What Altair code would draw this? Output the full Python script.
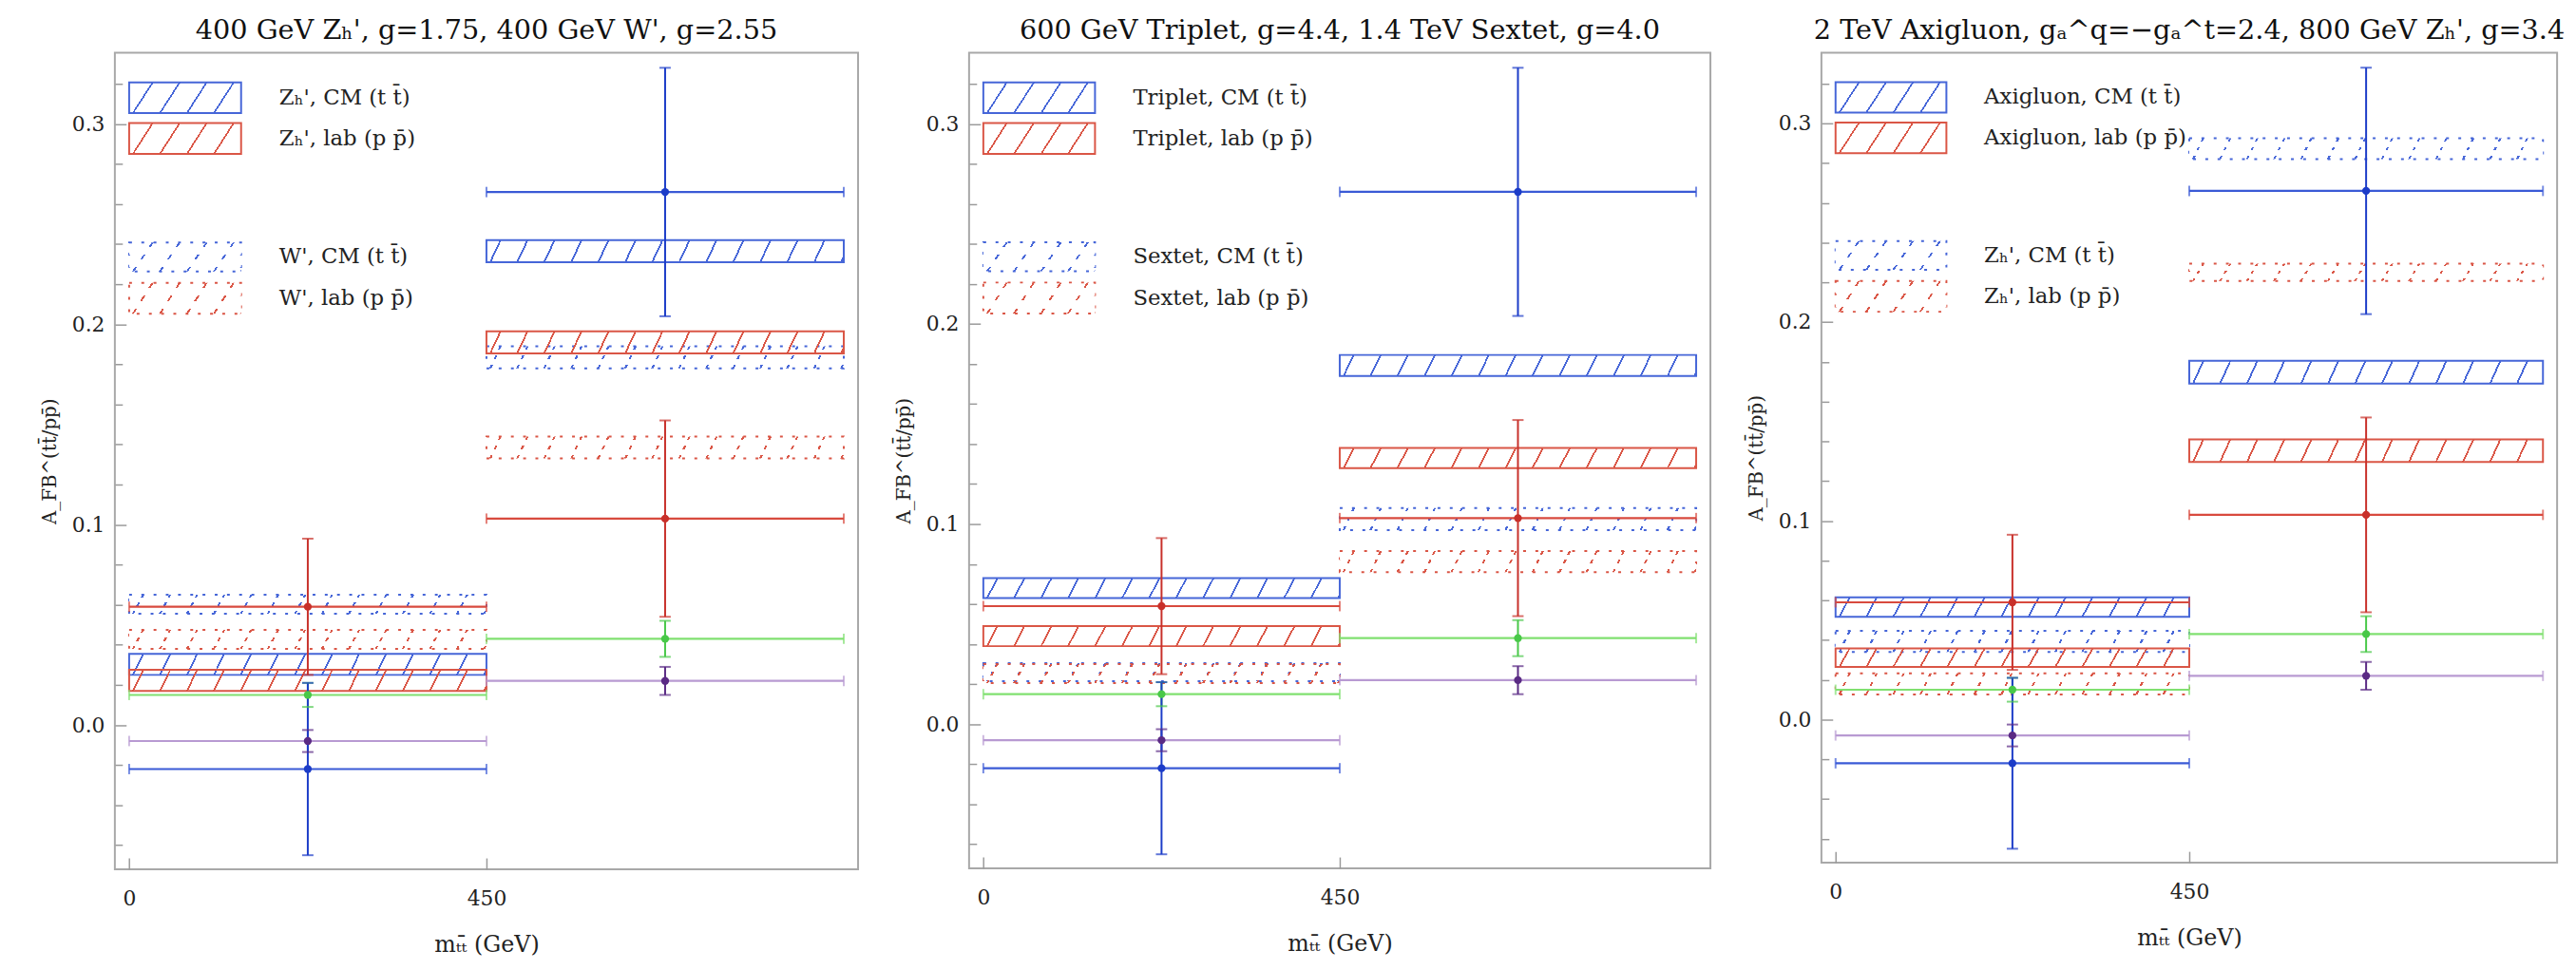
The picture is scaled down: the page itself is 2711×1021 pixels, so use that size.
import altair as alt
import pandas as pd

# ---------------- data ----------------
BIN_LO = [0, 450]
BIN_HI = [450, 900]
BIN_MID = [225, 675]

# measured asymmetries (same in every panel)
CM_VAL = [-0.022, 0.266]
CM_ERR = [0.043, 0.062]
LAB_VAL = [0.059, 0.103]
LAB_ERR = [0.034, 0.049]
GREEN_VAL = [0.015, 0.043]
GREEN_ERR = [0.006, 0.009]
PURPLE_VAL = [-0.008, 0.022]
PURPLE_ERR = [0.0055, 0.007]

TITLES = [
    "400 GeV Zₕ', g=1.75, 400 GeV W', g=2.55",
    "600 GeV Triplet, g=4.4, 1.4 TeV Sextet, g=4.0",
    "2 TeV Axigluon, gₐ^q=−gₐ^t=2.4, 800 GeV Zₕ', g=3.4",
]
LEGENDS = [
    ["Zₕ', CM (t t̄)", "Zₕ', lab (p p̄)", "W', CM (t t̄)", "W', lab (p p̄)"],
    ["Triplet, CM (t t̄)", "Triplet, lab (p p̄)", "Sextet, CM (t t̄)", "Sextet, lab (p p̄)"],
    ["Axigluon, CM (t t̄)", "Axigluon, lab (p p̄)", "Zₕ', CM (t t̄)", "Zₕ', lab (p p̄)"],
]

# model bands: [low, high] for bin 1 and bin 2
P1_HATCH_CM = [[0.025, 0.0355], [0.231, 0.242]]
P1_HATCH_LAB = [[0.017, 0.0275], [0.1855, 0.1965]]
P1_DOT_CM = [[0.0555, 0.065], [0.178, 0.189]]
P1_DOT_LAB = [[0.038, 0.0475], [0.133, 0.144]]

P2_HATCH_CM = [[0.063, 0.073], [0.174, 0.1845]]
P2_HATCH_LAB = [[0.039, 0.049], [0.128, 0.138]]
P2_DOT_CM = [[0.0215, 0.0305], [0.097, 0.108]]
P2_DOT_LAB = [[0.0205, 0.030], [0.076, 0.0865]]

P3_HATCH_CM = [[0.0517, 0.0615], [0.169, 0.1805]]
P3_HATCH_LAB = [[0.0265, 0.0358], [0.1296, 0.141]]
P3_DOT_CM = [[0.034, 0.0446], [0.282, 0.2925]]
P3_DOT_LAB = [[0.0126, 0.0232], [0.2207, 0.2294]]

Y_MAJOR = [0.0, 0.1, 0.2, 0.3]
Y_MINOR = [-0.06, -0.04, -0.02, 0.02, 0.04, 0.06, 0.08, 0.12, 0.14, 0.16, 0.18,
           0.22, 0.24, 0.26, 0.28, 0.32]
X_TICKS = [0, 450]

# ---------------- layout / style ----------------
FONT = "DejaVu Serif"
X_DOMAIN = [-18, 918]
Y_DOMAIN = [-0.072, 0.3355]
PANEL_W = [790, 788, 782]
PANEL_H = [868, 867, 861]

BLUE = "#4666d8"
RED = "#da5646"
SER = ["green", "purple", "lab", "cm"]
LINE_COLORS = ["#80e070", "#b89ad2", "#d84a3e", "#3a5ad6"]
MARK_COLORS = ["#48c848", "#5a2a84", "#c8302a", "#1c3cc8"]

# legend placement inside the frame (data units)
LEG_X0, LEG_X1, LEG_TX = 0, 141, 189
LEG_ROWS = [(0.3054, 0.3207), (0.2850, 0.3004), (0.2263, 0.2408), (0.2052, 0.2207)]

CLEAR = "rgba(255,255,255,0)"


def stripe_gradient(color, W, H, a, S, lw=2.0, start=4.0):
    total = W + a
    stops = [{"offset": 0, "color": CLEAR}]
    f = (a + start) % S
    while f - lw / 2 < total:
        o0 = max(0.0, (f - lw / 2) / total)
        o1 = min(1.0, (f + lw / 2) / total)
        stops += [{"offset": o0, "color": CLEAR}, {"offset": o0, "color": color},
                  {"offset": o1, "color": color}, {"offset": o1, "color": CLEAR}]
        f += S
    stops.append({"offset": 1, "color": CLEAR})
    k = total / (W * W + a * a)
    return {"gradient": "linear", "x1": 0, "y1": 0, "x2": W * k, "y2": a * k, "stops": stops}


BREAKER = {"gradient": "linear", "x1": 0, "y1": 0, "x2": 0, "y2": 1, "stops": [
    {"offset": 0, "color": CLEAR}, {"offset": 0.16, "color": CLEAR},
    {"offset": 0.16, "color": "white"}, {"offset": 0.42, "color": "white"},
    {"offset": 0.42, "color": CLEAR}, {"offset": 0.58, "color": CLEAR},
    {"offset": 0.58, "color": "white"}, {"offset": 0.84, "color": "white"},
    {"offset": 0.84, "color": CLEAR}, {"offset": 1, "color": CLEAR}]}


def measured_frame():
    rows = []
    for key, vals, errs in [("green", GREEN_VAL, GREEN_ERR), ("purple", PURPLE_VAL, PURPLE_ERR),
                            ("lab", LAB_VAL, LAB_ERR), ("cm", CM_VAL, CM_ERR)]:
        for i in range(2):
            rows.append({"s": key, "lo": BIN_LO[i], "hi": BIN_HI[i], "mid": BIN_MID[i],
                         "v": vals[i], "elo": vals[i] - errs[i], "ehi": vals[i] + errs[i]})
    return pd.DataFrame(rows)


def panel(title, legend, hatch_cm, hatch_lab, dot_cm, dot_lab, width, height):
    xs = alt.Scale(domain=X_DOMAIN, nice=False, zero=False)
    ys = alt.Scale(domain=Y_DOMAIN, nice=False, zero=False)

    band_rows = []
    for kind, frame, pairs in [("dot", "CM", dot_cm), ("dot", "lab", dot_lab),
                               ("hatch", "CM", hatch_cm), ("hatch", "lab", hatch_lab)]:
        for i, (lo, hi) in enumerate(pairs):
            band_rows.append({"kind": kind, "frame": frame, "x0": BIN_LO[i], "x1": BIN_HI[i],
                              "y0": lo, "y1": hi})
    bands = pd.DataFrame(band_rows)

    leg_rows = []
    for (kind, frame), label, (y0, y1) in zip(
            [("hatch", "CM"), ("hatch", "lab"), ("dot", "CM"), ("dot", "lab")], legend, LEG_ROWS):
        leg_rows.append({"kind": kind, "frame": frame, "label": label, "x0": LEG_X0, "x1": LEG_X1,
                         "tx": LEG_TX, "y0": y0, "y1": y1, "ty": (y0 + y1) / 2})
    leg = pd.DataFrame(leg_rows)

    px = width / (X_DOMAIN[1] - X_DOMAIN[0])
    band_w = 450 * px
    leg_w = (LEG_X1 - LEG_X0) * px

    def rects(df, kind, frame, fill, stroke=None, dash=None):
        kw = {"fill": fill}
        if stroke is not None:
            kw["stroke"] = stroke
            kw["strokeWidth"] = 2
        else:
            kw["strokeWidth"] = 0
        if dash is not None:
            kw["strokeDash"] = dash
        return alt.Chart(df).transform_filter(
            (alt.datum.kind == kind) & (alt.datum.frame == frame)
        ).mark_rect(**kw).encode(
            x=alt.X("x0:Q", scale=xs, axis=None), x2="x1:Q",
            y=alt.Y("y0:Q", scale=ys, axis=None), y2="y1:Q")

    layers = []
    for df, W, H, a in [(bands, band_w, 23, 11), (leg, leg_w, 32, 21)]:
        for frame, col in [("CM", BLUE), ("lab", RED)]:
            layers.append(rects(df, "dot", frame, stripe_gradient(col, W, H, a, 28.7, lw=2.2),
                                stroke=col, dash=[3, 10]))
            layers.append(rects(df, "dot", frame, BREAKER))
        for frame, col in [("CM", BLUE), ("lab", RED)]:
            layers.append(rects(df, "hatch", frame, stripe_gradient(col, W, H, a, 28.7), stroke=col))

    layers.append(alt.Chart(leg).mark_text(align="left", baseline="middle", font=FONT,
                                           fontSize=23, color="#222").encode(
        x=alt.X("tx:Q", scale=xs, axis=None), y=alt.Y("ty:Q", scale=ys, axis=None),
        text="label:N"))

    meas = measured_frame()
    line_stroke = alt.Stroke("s:N", scale=alt.Scale(domain=SER, range=LINE_COLORS), legend=None)
    cap_fill = alt.Fill("s:N", scale=alt.Scale(domain=SER, range=LINE_COLORS), legend=None)
    mark_color = alt.Color("s:N", scale=alt.Scale(domain=SER, range=MARK_COLORS), legend=None)

    axis_common = dict(domain=False, grid=False, tickColor="#9a9a9a", tickWidth=1.5,
                       labelFont=FONT, labelFontSize=22, labelColor="#222",
                       titleFont=FONT, titleFontWeight="normal", titleColor="#222")

    x_axis = alt.Axis(orient="bottom", values=X_TICKS, format="d", tickSize=12, offset=-12,
                      labelPadding=21, labelFlush=False, title="mₜₜ̄ (GeV)", titleFontSize=24,
                      titlePadding=26, **axis_common)
    y_axis = alt.Axis(orient="left", values=Y_MAJOR, format=".1f", tickSize=12, offset=-12,
                      labelPadding=11, title="A_FB^(tt̄/pp̄)", titleFontSize=20,
                      titlePadding=13, **axis_common)
    y_minor = alt.Axis(orient="left", values=Y_MINOR, tickSize=8, offset=-8, labels=False,
                       title="", domain=False, grid=False, tickColor="#9a9a9a", tickWidth=1.5)

    base = alt.Chart(meas)
    hline = base.mark_rule(strokeWidth=2.2).encode(
        x=alt.X("lo:Q", scale=xs, axis=None), x2="hi:Q",
        y=alt.Y("v:Q", scale=ys, axis=None), stroke=line_stroke)
    hcaps = base.transform_fold(["lo", "hi"], as_=["end", "xe"]).mark_tick(
        orient="vertical", size=11, thickness=2).encode(
        x=alt.X("xe:Q", scale=xs, axis=None), y=alt.Y("v:Q", scale=ys, axis=None), fill=cap_fill)
    vline = base.mark_rule(strokeWidth=2).encode(
        x=alt.X("mid:Q", scale=xs, axis=x_axis),
        y=alt.Y("elo:Q", scale=ys, axis=y_axis), y2="ehi:Q", color=mark_color)
    vcaps = base.transform_fold(["elo", "ehi"], as_=["end", "ye"]).mark_tick(
        orient="horizontal", size=12, thickness=2).encode(
        x=alt.X("mid:Q", scale=xs, axis=None), y=alt.Y("ye:Q", scale=ys, axis=None),
        color=mark_color)
    pts = base.mark_point(filled=True, shape="circle", size=70, opacity=1).encode(
        x=alt.X("mid:Q", scale=xs, axis=None), y=alt.Y("v:Q", scale=ys, axis=y_minor),
        color=mark_color)

    layers += [hline, hcaps, vline, vcaps, pts]

    return alt.layer(*layers).resolve_axis(x="independent", y="independent").properties(
        width=width, height=height,
        title=alt.TitleParams(title, font=FONT, fontSize=29, fontWeight="normal", color="#111",
                              anchor="middle", frame="group", offset=-20, baseline="bottom"))


p1 = panel(TITLES[0], LEGENDS[0], P1_HATCH_CM, P1_HATCH_LAB, P1_DOT_CM, P1_DOT_LAB, PANEL_W[0], PANEL_H[0])
p2 = panel(TITLES[1], LEGENDS[1], P2_HATCH_CM, P2_HATCH_LAB, P2_DOT_CM, P2_DOT_LAB, PANEL_W[1], PANEL_H[1])
p3 = panel(TITLES[2], LEGENDS[2], P3_HATCH_CM, P3_HATCH_LAB, P3_DOT_CM, P3_DOT_LAB, PANEL_W[2], PANEL_H[2])

chart = alt.hconcat(p1, p2, p3, spacing=37).resolve_scale(
    x="independent", y="independent"
).properties(
    padding={"left": 34, "top": 4, "right": 2, "bottom": 0}
).configure_view(stroke="#a8a8a8", strokeWidth=2)

chart.save("out.html", embed_options={"renderer": "svg", "actions": False})
